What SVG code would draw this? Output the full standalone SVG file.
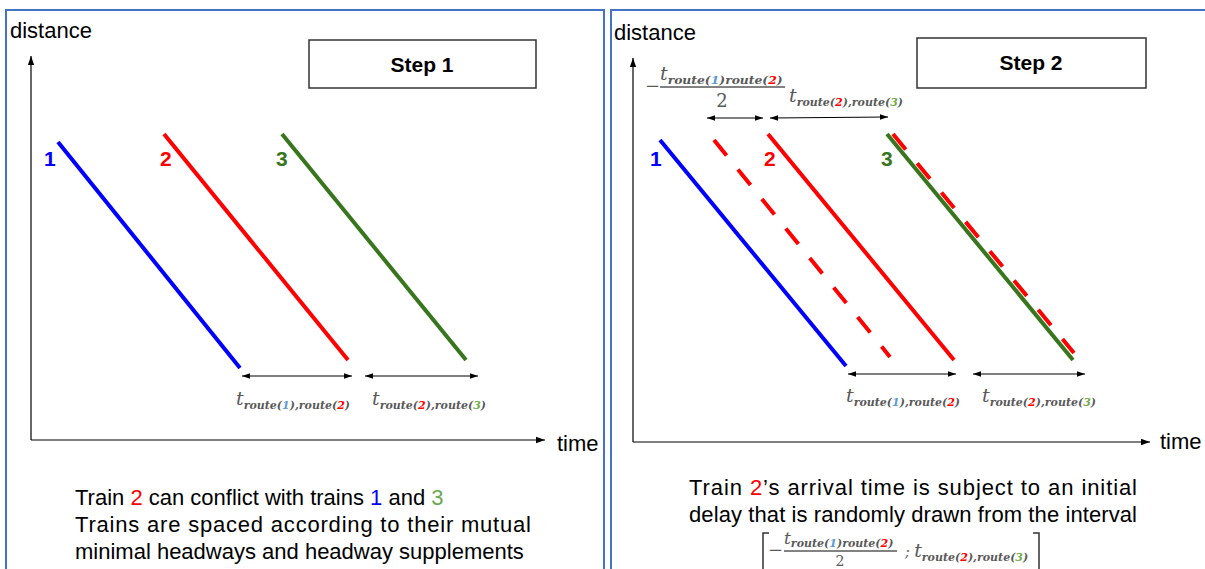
<svg xmlns="http://www.w3.org/2000/svg" width="1205" height="569" viewBox="0 0 1205 569">
<style>
.panel{fill:none;stroke:#4472C4;stroke-width:2}
.box{fill:#fff;stroke:#333;stroke-width:1.5}
.ax{stroke:#000;stroke-width:1.2;fill:none}
.lbl{font-family:"Liberation Sans",Arial,sans-serif;font-size:22px;fill:#000}
.step{font-family:"Liberation Sans",Arial,sans-serif;font-size:21px;font-weight:bold;fill:#000}
.num{font-family:"Liberation Sans",Arial,sans-serif;font-size:21px;font-weight:bold}
.m{font-family:"DejaVu Serif","Liberation Serif",serif;font-style:italic;fill:#595959}
.mt{font-size:19px}
.ms{font-size:11px;font-weight:bold}
.up{font-family:"DejaVu Serif","Liberation Serif",serif;fill:#595959}
.b{fill:#5B9BD5}.r{fill:#FF0000}.g{fill:#70AD47}
.dim{stroke:#000;stroke-width:1;fill:none;marker-start:url(#ah);marker-end:url(#ah)}
.tr{stroke-width:4;fill:none}
</style>
<defs>
<marker id="ah" viewBox="0 0 10 10" refX="10" refY="5" markerWidth="8" markerHeight="8" orient="auto-start-reverse" markerUnits="userSpaceOnUse">
<path d="M0,1.5 L10,5 L0,8.5 Z" fill="#000"/>
</marker>
<marker id="axh" viewBox="0 0 10 10" refX="10" refY="5" markerWidth="9" markerHeight="9" orient="auto" markerUnits="userSpaceOnUse">
<path d="M0,1.5 L10,5 L0,8.5 Z" fill="#000"/>
</marker>
</defs>

<g id="panel1">
<rect class="panel" x="6" y="10" width="598" height="580"/>
<text class="lbl" x="10" y="38">distance</text>
<g id="axes1">
<path class="ax" d="M31,440 L31,56" marker-end="url(#axh)"/>
<path class="ax" d="M31,440 L545,440" marker-end="url(#axh)"/>
</g>
<text class="lbl" x="557" y="451">time</text>
<g id="step1">
<rect class="box" x="309" y="40" width="227" height="48"/>
<text class="step" x="422" y="72" text-anchor="middle">Step 1</text>
</g>
</g>

<g id="panel2">
<rect class="panel" x="611" y="10" width="600" height="580"/>
<text class="lbl" x="614" y="40">distance</text>
<g id="axes2">
<path class="ax" d="M633,442 L633,58" marker-end="url(#axh)"/>
<path class="ax" d="M633,442 L1150,442" marker-end="url(#axh)"/>
</g>
<text class="lbl" x="1160" y="449">time</text>
<g id="step2">
<rect class="box" x="917" y="38" width="229" height="50"/>
<text class="step" x="1031" y="70" text-anchor="middle">Step 2</text>
</g>
</g>

<g id="train1-s1">
<line class="tr" x1="58" y1="142" x2="240" y2="368" stroke="#0000FF"/>
<text class="num" x="44" y="166" fill="#0000FF">1</text>
</g>
<g id="train2-s1">
<line class="tr" x1="164" y1="134" x2="348" y2="360" stroke="#FF0000"/>
<text class="num" x="160" y="166" fill="#FF0000">2</text>
</g>
<g id="train3-s1">
<line class="tr" x1="282" y1="134" x2="466" y2="360" stroke="#38761D"/>
<text class="num" x="276" y="166" fill="#38761D">3</text>
</g>

<g id="train1-s2">
<line class="tr" x1="660" y1="140" x2="846" y2="366" stroke="#0000FF"/>
<text class="num" x="650" y="166" fill="#0000FF">1</text>
</g>
<g id="train2-delayed-early">
<line class="tr" x1="714" y1="140" x2="890" y2="357" stroke="#FF0000" stroke-dasharray="20,18"/>
</g>
<g id="train2-s2">
<line class="tr" x1="768" y1="134" x2="954" y2="360" stroke="#FF0000"/>
<text class="num" x="764" y="166" fill="#FF0000">2</text>
</g>
<g id="train3-s2">
<line class="tr" x1="887" y1="134" x2="1073" y2="360" stroke="#38761D"/>
<text class="num" x="881" y="166" fill="#38761D">3</text>
</g>
<g id="train2-delayed-late">
<line class="tr" x1="893" y1="134" x2="1074" y2="353" stroke="#FF0000" stroke-dasharray="20,18"/>
</g>

<g id="connectors">
<line class="dim" x1="242" y1="376" x2="352" y2="376"/>
<line class="dim" x1="365" y1="376" x2="478" y2="376"/>
<line class="dim" x1="707" y1="118" x2="763" y2="118"/>
<line class="dim" x1="770" y1="118" x2="888" y2="117"/>
<line class="dim" x1="848" y1="374" x2="956" y2="374"/>
<line class="dim" x1="973" y1="374" x2="1085" y2="374"/>
</g>

<g id="labels-s1">
<text class="m" x="236" y="405"><tspan class="mt">t</tspan><tspan class="ms" dy="4">route(<tspan class="b">1</tspan>),route(<tspan class="r">2</tspan>)</tspan></text>
<text class="m" x="372" y="405"><tspan class="mt">t</tspan><tspan class="ms" dy="4">route(<tspan class="r">2</tspan>),route(<tspan class="g">3</tspan>)</tspan></text>
</g>

<g id="labels-s2">
<text class="up" x="645" y="92" font-size="18">−</text>
<text class="m" x="660" y="80"><tspan class="mt">t</tspan><tspan class="ms" dy="4" textLength="115" lengthAdjust="spacingAndGlyphs">route(<tspan class="b">1</tspan>)route(<tspan class="r">2</tspan>)</tspan></text>
<line x1="660" y1="87" x2="785" y2="87" stroke="#595959" stroke-width="1.3"/>
<text class="up" x="722" y="107" font-size="18" text-anchor="middle">2</text>
<text class="m" x="789" y="102"><tspan class="mt">t</tspan><tspan class="ms" dy="4">route(<tspan class="r">2</tspan>),route(<tspan class="g">3</tspan>)</tspan></text>
<text class="m" x="846" y="402"><tspan class="mt">t</tspan><tspan class="ms" dy="4">route(<tspan class="b">1</tspan>),route(<tspan class="r">2</tspan>)</tspan></text>
<text class="m" x="982" y="402"><tspan class="mt">t</tspan><tspan class="ms" dy="4">route(<tspan class="r">2</tspan>),route(<tspan class="g">3</tspan>)</tspan></text>
</g>

<g id="caption1">
<text class="lbl" x="75" y="505">Train <tspan fill="#FF0000">2</tspan> can conflict with trains <tspan fill="#0000FF">1</tspan> and <tspan fill="#6AA84F">3</tspan></text>
<text class="lbl" x="75" y="532" textLength="456" lengthAdjust="spacing">Trains are spaced according to their mutual</text>
<text class="lbl" x="75" y="559">minimal headways and headway supplements</text>
</g>

<g id="caption2">
<text class="lbl" x="689" y="495" textLength="448" lengthAdjust="spacing">Train <tspan fill="#FF0000">2</tspan>’s arrival time is subject to an initial</text>
<text class="lbl" x="689" y="522" textLength="448" lengthAdjust="spacing">delay that is randomly drawn from the interval</text>
<path d="M769,533 L763,533 L763,572" stroke="#333" stroke-width="1.5" fill="none"/>
<text class="up" x="768" y="556" font-size="18">−</text>
<text class="m" x="784" y="544"><tspan font-size="17px">t</tspan><tspan class="ms" dy="3">route(<tspan class="b">1</tspan>)route(<tspan class="r">2</tspan>)</tspan></text>
<line x1="784" y1="551" x2="897" y2="551" stroke="#595959" stroke-width="1.3"/>
<text class="up" x="840" y="566" font-size="14" text-anchor="middle">2</text>
<text class="m" x="905" y="557"><tspan font-size="14">; </tspan><tspan class="mt">t</tspan><tspan class="ms" dy="4">route(<tspan class="r">2</tspan>),route(<tspan class="g">3</tspan>)</tspan></text>
<path d="M1033,533 L1039,533 L1039,572" stroke="#333" stroke-width="1.5" fill="none"/>
</g>
</svg>
